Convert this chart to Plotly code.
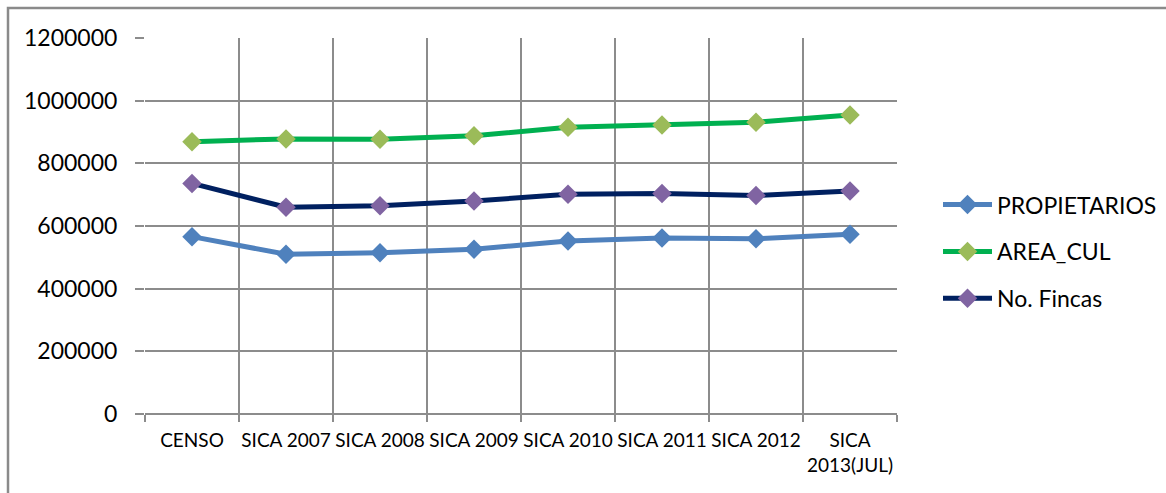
import plotly.graph_objects as go

# categories and series
categories = ["CENSO", "SICA 2007", "SICA 2008", "SICA 2009", "SICA 2010",
              "SICA 2011", "SICA 2012", "SICA<br>2013(JUL)"]
propietarios = [566000, 510000, 515000, 526000, 552000, 562000, 559000, 574000]
area_cul = [869000, 878000, 877000, 888000, 915000, 922000, 931000, 954000]
no_fincas = [736000, 660000, 665000, 680000, 701000, 704000, 697000, 712000]

y_ticks = [0, 200000, 400000, 600000, 800000, 1000000, 1200000]

GRID = "#8c8c8c"
FONT = "Lato, 'Open Sans', sans-serif"

series = [
    ("PROPIETARIOS", propietarios, "#4F81BD", "#4F81BD"),
    ("AREA_CUL", area_cul, "#00B050", "#9BBB59"),
    ("No. Fincas", no_fincas, "#002060", "#8064A2"),
]

fig = go.Figure()
for name, vals, line_c, mark_c in series:
    fig.add_trace(go.Scatter(
        x=categories, y=vals, name=name, mode="lines+markers",
        legendgroup=name,
        line=dict(color=line_c, width=5),
        marker=dict(symbol="diamond", size=15, color=mark_c),
    ))

fig.update_layout(
    width=1166, height=493,
    paper_bgcolor="white", plot_bgcolor="white",
    margin=dict(l=145, r=269, t=38, b=79, autoexpand=False),
    font=dict(family=FONT, color="black"),
    legend=dict(x=(938 - 145) / 752, y=0.432, xanchor="left", yanchor="middle",
                font=dict(size=23), tracegroupgap=14,
                bgcolor="rgba(0,0,0,0)", itemwidth=49),
    shapes=[dict(type="rect", xref="paper", yref="paper",
                 x0=(8 - 145) / 752, x1=(1175 - 145) / 752,
                 y0=(414 - 505) / 376, y1=(414 - 8) / 376,
                 line=dict(color="#8a8a8a", width=2.5), layer="below")],
)
fig.update_xaxes(
    type="category", tickson="boundaries", showgrid=True,
    gridcolor=GRID, gridwidth=1.5, showline=False,
    ticks="outside", ticklen=7, tickcolor=GRID, tickwidth=1.5,
    tickfont=dict(size=19), tickangle=0, ticklabelstandoff=13,
    range=[-0.5, len(categories) - 0.5],
)
fig.update_yaxes(
    range=[0, 1200000], tickvals=y_ticks,
    ticktext=[str(v) for v in y_ticks],
    showgrid=True, gridcolor=GRID, gridwidth=1.5,
    zeroline=True, zerolinecolor=GRID, zerolinewidth=1.5,
    ticks="outside", ticklen=9, tickcolor=GRID, tickwidth=1.5,
    tickfont=dict(size=23), ticklabelstandoff=13,
)

fig.write_html("out.html", config={"displayModeBar": False},
               post_script="document.body.style.margin = '0';")
